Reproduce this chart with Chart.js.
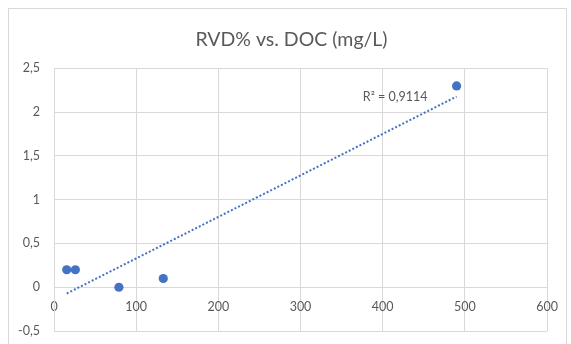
<!DOCTYPE html>
<html lang="en">
<head>
  <meta charset="UTF-8" />
  <title>RVD% vs. DOC (mg/L)</title>
  <style>
    html, body { margin: 0; padding: 0; background: #fff; }
    #wrap { position: relative; width: 571px; height: 344px; overflow: hidden; }
    #frame {
      position: absolute; left: 8px; top: 8px;
      width: 557px; height: 345px;
      border: 1px solid #d9d9d9;
    }
    canvas { position: absolute; left: 0; top: 0; }
  </style>
</head>
<body>
  <div id="wrap">
    <div id="frame"></div>
    <canvas id="chart" width="571" height="344"></canvas>
  </div>

  <script src="https://cdn.jsdelivr.net/npm/chart.js@4"></script>
  <script>
    // measurements: DOC (mg/L) against RVD%
    const docValues = [15.5, 26, 79, 133, 490];
    const rvdValues = [0.2, 0.2, 0, 0.1, 2.3];
    const xTicks = [0, 100, 200, 300, 400, 500, 600];
    const yTicks = [-0.5, 0, 0.5, 1, 1.5, 2, 2.5];
    const r2Text = 'R² = 0,9114';

    const BLUE = '#4472c4';
    const GRID = '#d9d9d9';
    const TEXT = '#595959';
    const FONT = 'Lato, "Open Sans", sans-serif';

    // least squares line through the points
    function linearFit(xs, ys) {
      const n = xs.length;
      const mx = xs.reduce((a, b) => a + b, 0) / n;
      const my = ys.reduce((a, b) => a + b, 0) / n;
      let sxy = 0, sxx = 0;
      for (let i = 0; i < n; i++) {
        sxy += (xs[i] - mx) * (ys[i] - my);
        sxx += (xs[i] - mx) * (xs[i] - mx);
      }
      const slope = sxy / sxx;
      return { slope, intercept: my - slope * mx };
    }

    const fit = linearFit(docValues, rvdValues);
    const xMin = Math.min(...docValues);
    const xMax = Math.max(...docValues);
    const trendPoints = [xMin, xMax].map(x => ({ x, y: fit.intercept + fit.slope * x }));

    const commaFormat = v => String(v).replace('.', ',');

    // R² text next to the end of the trendline
    const r2Plugin = {
      id: 'r2Label',
      afterDatasetsDraw(chart) {
        const pts = chart.getDatasetMeta(1).data;
        const end = pts[pts.length - 1];
        const ctx = chart.ctx;
        ctx.save();
        ctx.font = '12.5px ' + FONT;
        ctx.fillStyle = TEXT;
        ctx.textAlign = 'right';
        ctx.textBaseline = 'middle';
        ctx.fillText(r2Text, end.x - 29, end.y);
        ctx.restore();
      }
    };

    // nudge the title box a little to the right
    const titleShift = {
      id: 'titleShift',
      afterLayout(chart) {
        const t = chart.titleBlock;
        if (t) { t.left += 18; t.right += 18; }
      }
    };

    new Chart(document.getElementById('chart'), {
      type: 'scatter',
      data: {
        datasets: [
          {
            label: 'RVD%',
            data: docValues.map((x, i) => ({ x, y: rvdValues[i] })),
            backgroundColor: BLUE,
            borderWidth: 0,
            pointRadius: 4.6,
            order: 1
          },
          {
            label: 'Linear trend',
            type: 'line',
            data: trendPoints,
            borderColor: BLUE,
            borderWidth: 2,
            borderDash: [2, 2],
            pointRadius: 0,
            fill: false,
            order: 2
          }
        ]
      },
      options: {
        responsive: false,
        animation: false,
        layout: { padding: { left: 0, right: 24, top: 0, bottom: 13 } },
        plugins: {
          legend: { display: false },
          tooltip: { enabled: false },
          title: {
            display: true,
            text: 'RVD% vs. DOC (mg/L)',
            color: TEXT,
            font: { family: FONT, size: 19.5, weight: 'normal' },
            padding: { top: 28, bottom: 17 }
          }
        },
        scales: {
          x: {
            type: 'linear',
            position: { y: 0 },
            min: 0,
            max: 600,
            afterBuildTicks: s => { s.ticks = xTicks.map(value => ({ value })); },
            afterFit: s => { s.height = 0; },
            grid: { color: GRID, drawTicks: false },
            border: { color: GRID },
            ticks: {
              color: TEXT,
              font: { family: FONT, size: 12.5 },
              padding: 12,
              callback: commaFormat
            }
          },
          y: {
            type: 'linear',
            min: -0.5,
            max: 2.5,
            afterBuildTicks: s => { s.ticks = yTicks.map(value => ({ value })); },
            afterFit: s => { s.width = 54; },
            // invisible tick marks keep the labels clear of the plot edge
            grid: { color: GRID, drawTicks: true, tickLength: 14, tickColor: 'transparent' },
            border: { color: GRID },
            ticks: {
              color: TEXT,
              font: { family: FONT, size: 12.5 },
              padding: 0,
              callback: commaFormat
            }
          }
        }
      },
      plugins: [r2Plugin, titleShift]
    });
  </script>
</body>
</html>
